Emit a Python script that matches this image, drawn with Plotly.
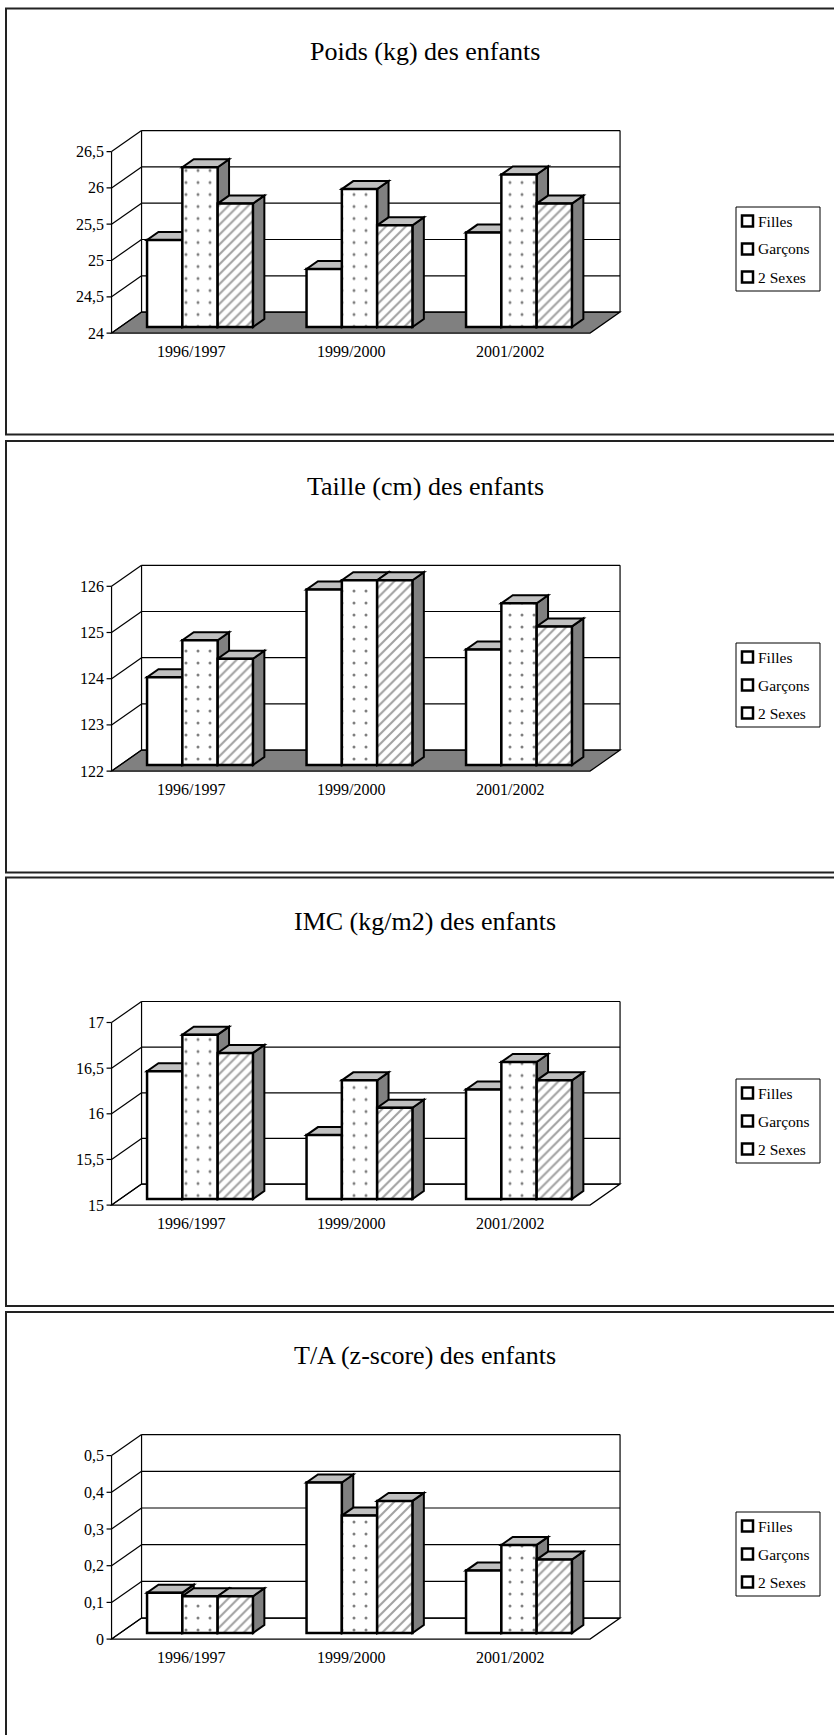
import plotly.graph_objects as go
import numpy as np

# ---------------- data ----------------
categories = ["1996/1997", "1999/2000", "2001/2002"]
series_names = ["Filles", "Garçons", "2 Sexes"]
titles = ["Poids (kg) des enfants", "Taille (cm) des enfants",
          "IMC (kg/m2) des enfants", "T/A (z-score) des enfants"]

poids_filles = [25.2, 24.8, 25.3]
poids_garcons = [26.2, 25.9, 26.1]
poids_2sexes = [25.7, 25.4, 25.7]
poids_ticks = [24, 24.5, 25, 25.5, 26, 26.5]
poids_ticktext = ["24", "24,5", "25", "25,5", "26", "26,5"]

taille_filles = [123.9, 125.8, 124.5]
taille_garcons = [124.7, 126.0, 125.5]
taille_2sexes = [124.3, 126.0, 125.0]
taille_ticks = [122, 123, 124, 125, 126]
taille_ticktext = ["122", "123", "124", "125", "126"]

imc_filles = [16.4, 15.7, 16.2]
imc_garcons = [16.8, 16.3, 16.5]
imc_2sexes = [16.6, 16.0, 16.3]
imc_ticks = [15, 15.5, 16, 16.5, 17]
imc_ticktext = ["15", "15,5", "16", "16,5", "17"]

ta_filles = [0.11, 0.41, 0.17]
ta_garcons = [0.10, 0.32, 0.24]
ta_2sexes = [0.10, 0.36, 0.20]
ta_ticks = [0, 0.1, 0.2, 0.3, 0.4, 0.5]
ta_ticktext = ["0", "0,1", "0,2", "0,3", "0,4", "0,5"]

panel_data = [
    ([poids_filles, poids_garcons, poids_2sexes], poids_ticks, poids_ticktext),
    ([taille_filles, taille_garcons, taille_2sexes], taille_ticks, taille_ticktext),
    ([imc_filles, imc_garcons, imc_2sexes], imc_ticks, imc_ticktext),
    ([ta_filles, ta_garcons, ta_2sexes], ta_ticks, ta_ticktext),
]

# ---------------- geometry / style ----------------
W, H = 834, 1735
FONT = "Liberation Serif, Times New Roman, serif"
X0, XS = 200.0, 159.5            # px of category 0 (bar plane), px per category
FRONT = (-8.7, 6.1)              # bar plane -> front plane offset (px)
BACK = (21.3, -14.9)             # bar plane -> back wall offset (px)
BARD = (11.4, -8.0)              # bar depth (px)
BARW = 0.2213                    # bar width in category units
GROUPW = 3 * BARW

geom = [  # top, bottom, base px, px per unit, floor colour, title y, legend centre y
    dict(top=8.5, bottom=434.5, base=327.0, ppu=72.6, floor="#808080", ty=52, ly=249),
    dict(top=441.0, bottom=872.5, base=765.0, ppu=46.2, floor="#808080", ty=486, ly=685),
    dict(top=877.5, bottom=1306.0, base=1199.0, ppu=91.3, floor="white", ty=921, ly=1121),
    dict(top=1312.0, bottom=1735.0, base=1633.0, ppu=367.0, floor="white", ty=1355, ly=1554),
]

patterns = [
    dict(shape=""),
    dict(shape=".", size=12, solidity=0.05, fgcolor="black", bgcolor="white"),
    dict(shape="/", size=7, solidity=0.3, fgcolor="#444444", bgcolor="white"),
]
side_pattern = dict(shape="/", size=7, solidity=0.3, fgcolor="#444444", bgcolor="#808080")

fig = go.Figure()
shapes, annotations = [], []
layout_axes = {}

def px_to_paper_y(y):
    return 1 - y / H

for p, ((vals3, ticks, ticktext), g) in enumerate(zip(panel_data, geom)):
    k = "" if p == 0 else str(p + 1)
    xr_, yr_ = "x" + k, "y" + k
    vmin, vmax = ticks[0], ticks[-1]
    ppu = g["ppu"]
    bottom_px = min(g["bottom"], H)
    layout_axes["xaxis" + k] = dict(domain=[0, 1], range=[-X0 / XS, (W - X0) / XS],
                                    visible=False, fixedrange=True, anchor=yr_)
    layout_axes["yaxis" + k] = dict(
        domain=[px_to_paper_y(bottom_px), px_to_paper_y(g["top"])],
        range=[vmin + (g["base"] - bottom_px) / ppu, vmin + (g["base"] - g["top"]) / ppu],
        visible=False, fixedrange=True, anchor=xr_)

    fx, fy = FRONT[0] / XS, -FRONT[1] / ppu
    bx, by = BACK[0] / XS, -BACK[1] / ppu
    dx, dy = BARD[0] / XS, -BARD[1] / ppu
    L, R = -0.5, 2.5

    def line(x0, y0, x1, y1, w=1.0, c="black"):
        shapes.append(dict(type="line", xref=xr_, yref=yr_, x0=x0, y0=y0, x1=x1, y1=y1,
                           line=dict(color=c, width=w), layer="below"))

    def poly(pts, fill, w=1.0):
        path = "M " + " L ".join(f"{x},{y}" for x, y in pts) + " Z"
        shapes.append(dict(type="path", xref=xr_, yref=yr_, path=path, fillcolor=fill,
                           line=dict(color="black", width=w), layer="below"))

    # floor
    poly([(L + fx, vmin + fy), (R + fx, vmin + fy), (R + bx, vmin + by), (L + bx, vmin + by)],
         g["floor"], 1.2)
    # back wall outline + gridlines
    line(L + bx, vmin + by, L + bx, vmax + by, 1.2)
    line(R + bx, vmin + by, R + bx, vmax + by, 1.2)
    for t in ticks:
        line(L + bx, t + by, R + bx, t + by, 1.2)
        line(L + fx, t + fy, L + bx, t + by, 1.2)          # left wall slanted line
        line(L + fx - 5 / XS, t + fy, L + fx, t + fy, 1.2)  # tick mark
    for t, tt in zip(ticks, ticktext):
        annotations.append(dict(xref=xr_, yref=yr_, x=L + fx, y=t + fy, text=tt,
                                showarrow=False, xanchor="right", yanchor="middle",
                                xshift=-6, font=dict(family=FONT, size=16, color="black")))
    # front axis
    line(L + fx, vmin + fy, L + fx, vmax + fy, 1.2)

    # bar side/top faces
    for j in range(len(categories)):
        for i in range(3):
            v = vals3[i][j]
            xl = j - GROUPW / 2 + i * BARW
            xr = xl + BARW
            poly([(xr, vmin), (xr, v), (xr + dx, v + dy), (xr + dx, vmin + dy)], "#808080", 2)
            poly([(xl, v), (xr, v), (xr + dx, v + dy), (xl + dx, v + dy)], "#c0c0c0", 2)

    # bar front faces
    for i in range(3):
        fig.add_trace(go.Bar(
            x=list(range(len(categories))), y=np.array(vals3[i]) - vmin, base=vmin,
            name=series_names[i], xaxis=xr_, yaxis=yr_, showlegend=False,
            marker=dict(color="white", line=dict(color="black", width=2.5), pattern=patterns[i]),
            hovertext=[f"{series_names[i]} {c}: {v}" for c, v in zip(categories, vals3[i])],
            hoverinfo="text"))

    # category labels
    for j, c in enumerate(categories):
        annotations.append(dict(xref=xr_, yref=yr_, x=j + fx, y=vmin + fy, text=c,
                                showarrow=False, xanchor="center", yanchor="middle", yshift=-18,
                                font=dict(family=FONT, size=16, color="black")))

    # title
    annotations.append(dict(xref="paper", yref="paper", x=425 / W, y=px_to_paper_y(g["ty"]),
                            text=titles[p], showarrow=False, xanchor="center", yanchor="middle",
                            font=dict(family=FONT, size=26, color="black")))

    # panel border
    shapes.append(dict(type="rect", xref="paper", yref="paper", x0=6 / W, x1=1.05,
                       y0=px_to_paper_y(g["bottom"]) if p < 3 else -0.02,
                       y1=px_to_paper_y(g["top"]),
                       line=dict(color="#222222", width=2), fillcolor="rgba(0,0,0,0)", layer="above"))

    # legend
    ly = g["ly"]
    shapes.append(dict(type="rect", xref="paper", yref="paper", x0=736 / W, x1=820 / W,
                       y0=px_to_paper_y(ly + 42), y1=px_to_paper_y(ly - 42),
                       line=dict(color="black", width=1), fillcolor="white", layer="above"))
    for i, name in enumerate(series_names):
        cy = ly + (i - 1) * 28
        shapes.append(dict(type="rect", xref="paper", yref="paper", x0=742 / W, x1=753 / W,
                           y0=px_to_paper_y(cy + 5.5), y1=px_to_paper_y(cy - 5.5),
                           line=dict(color="black", width=2.5), fillcolor="white", layer="above"))
        annotations.append(dict(xref="paper", yref="paper", x=756 / W, y=px_to_paper_y(cy),
                                text=name, showarrow=False, xanchor="left", yanchor="middle",
                                font=dict(family=FONT, size=15.5, color="black")))

fig.update_layout(
    width=W, height=H, margin=dict(l=0, r=0, t=0, b=0),
    paper_bgcolor="white", plot_bgcolor="rgba(0,0,0,0)",
    barmode="group", bargap=0.336, bargroupgap=0,
    shapes=shapes, annotations=annotations, showlegend=False,
    **layout_axes)

fig.write_html("out.html")
